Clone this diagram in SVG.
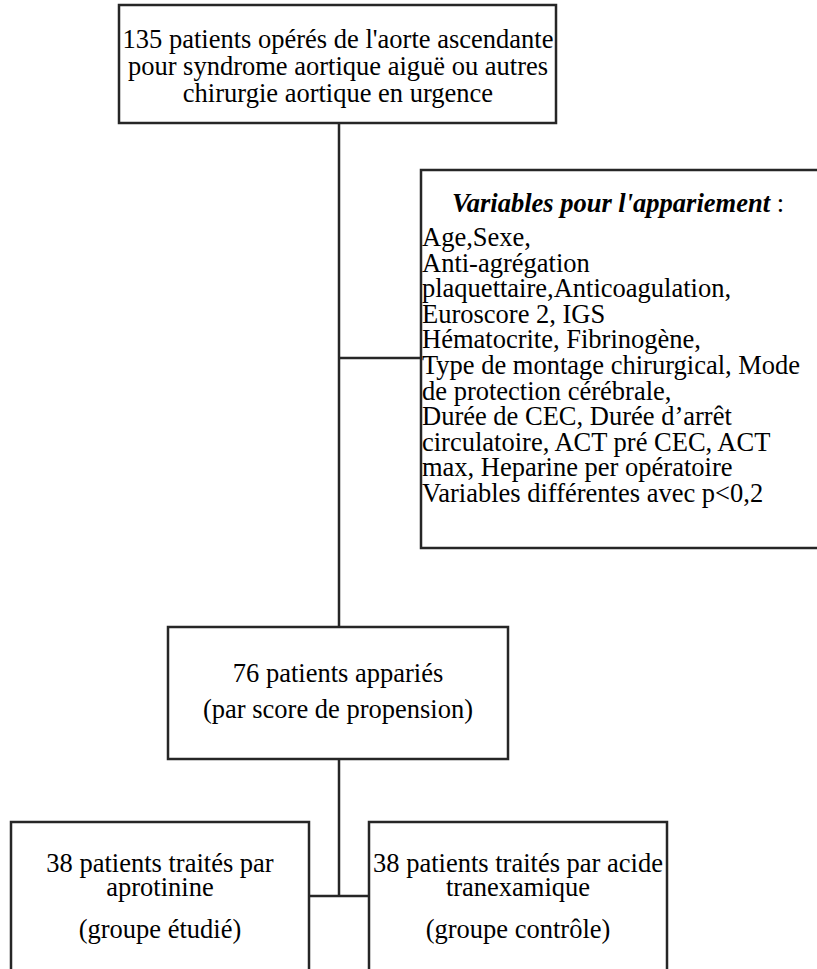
<svg xmlns="http://www.w3.org/2000/svg" width="817" height="969" viewBox="0 0 817 969">
<style>
.box{fill:#fff;stroke:#262626;stroke-width:2.5}
.ln{fill:none;stroke:#262626;stroke-width:2.5}
.c{text-anchor:middle}
.t{font-weight:bold;font-style:italic}
</style>
<rect width="817" height="969" fill="#fff"/>
<g id="connectors">
<line class="ln" x1="339" y1="123" x2="339" y2="627"/>
<line class="ln" x1="339" y1="358" x2="421" y2="358"/>
<line class="ln" x1="339" y1="759" x2="339" y2="896"/>
<line class="ln" x1="309" y1="896" x2="369" y2="896"/>
</g>
<g font-family="'Liberation Serif', Tinos, 'Times New Roman', 'DejaVu Serif', serif" font-size="26.5" fill="#000">
<g id="n_total">
<rect class="box" x="119" y="5" width="437" height="118"/>
<text class="c" x="338" y="48">135 patients opérés de l'aorte ascendante</text>
<text class="c" x="338" y="75">pour syndrome aortique aiguë ou autres</text>
<text class="c" x="338" y="102">chirurgie aortique en urgence</text>
</g>
<g id="n_variables">
<rect class="box" x="421" y="170" width="400" height="378"/>
<text class="c" x="618" y="212"><tspan class="t">Variables pour l'appariement</tspan> :</text>
<text x="422" y="246">Age,Sexe,</text>
<text x="422" y="271.6">Anti-agrégation</text>
<text x="422" y="297.2">plaquettaire,Anticoagulation,</text>
<text x="422" y="322.8">Euroscore 2, IGS</text>
<text x="422" y="348.4">Hématocrite, Fibrinogène,</text>
<text x="422" y="374">Type de montage chirurgical, Mode</text>
<text x="422" y="399.6">de protection cérébrale,</text>
<text x="422" y="425.2">Durée de CEC, Durée d’arrêt</text>
<text x="422" y="450.8">circulatoire, ACT pré CEC, ACT</text>
<text x="422" y="476.4">max, Heparine per opératoire</text>
<text x="422" y="502">Variables différentes avec p&lt;0,2</text>
</g>
<g id="n_matched">
<rect class="box" x="168" y="627" width="340" height="132"/>
<text class="c" x="338" y="682">76 patients appariés</text>
<text class="c" x="338" y="718">(par score de propension)</text>
</g>
<g id="n_aprotinine">
<rect class="box" x="11" y="822" width="298" height="160"/>
<text class="c" x="160" y="872">38 patients traités par</text>
<text class="c" x="160" y="896">aprotinine</text>
<text class="c" x="160" y="938">(groupe étudié)</text>
</g>
<g id="n_tranexamique">
<rect class="box" x="369" y="822" width="298" height="160"/>
<text class="c" x="518" y="872">38 patients traités par acide</text>
<text class="c" x="518" y="896">tranexamique</text>
<text class="c" x="518" y="938">(groupe contrôle)</text>
</g>
</g>
</svg>
